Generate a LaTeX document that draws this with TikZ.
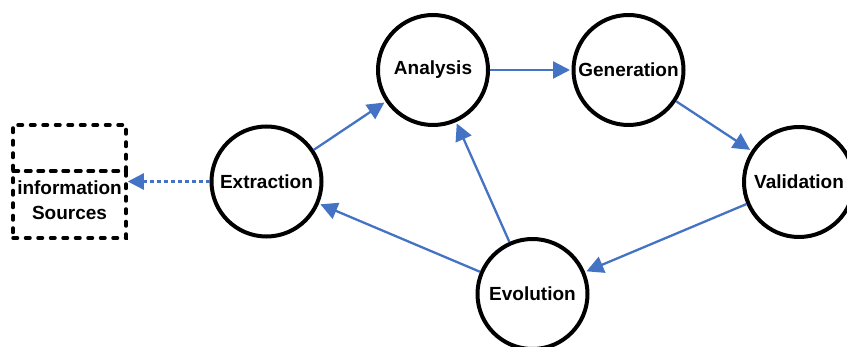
\documentclass[tikz,border=0pt]{standalone}
\usepackage{fontspec}
\setmainfont{Liberation Sans}
\usetikzlibrary{arrows.meta}
\definecolor{flowblue}{HTML}{4472C4}
\tikzset{
  stage/.style={circle, draw=black, line width=4pt, minimum size=110pt, inner sep=0pt,
    font=\fontsize{19}{22}\selectfont\bfseries, fill=white},
  flow/.style={draw=flowblue, line width=2.3pt, -{Triangle[length=17pt,width=17pt]}, shorten >=1.5pt},
  srcbox/.style={draw=black, line width=3.5pt, dash pattern=on 4.5pt off 8pt, line cap=round,
    minimum width=113pt, inner sep=0pt},
  srctext/.style={align=center, inner sep=0pt, font=\fontsize{19}{25}\selectfont\bfseries},
  link/.style={draw=flowblue, line width=2.3pt, dash pattern=on 4pt off 3pt, -{Triangle[length=16pt,width=16pt]}}
}
\begin{document}
\begin{tikzpicture}[x=1pt,y=-1pt]
\useasboundingbox (0,0) rectangle (847,347);
\clip (0,0) rectangle (847,347);
\node[stage] (ana) at (433,70) {Analysis};
\node[stage] (gen) at (628.5,70) {Generation};
\node[stage] (val) at (799,182) {Validation};
\node[stage] (evo) at (532.5,294) {Evolution};
\node[stage] (ext) at (266.5,181.5) {Extraction};
\node[srcbox, minimum height=46pt] (srctop) at (69.5,148) {};
\node[srcbox, minimum height=67pt] (src) at (69.5,204.5) {};
\node[srctext] (srclabel) at (69.5,200.5) {information\\Sources};
\draw[flow] (ana) -- (gen);
\draw[flow] (gen) -- (val);
\draw[flow] (val) -- (evo);
\draw[flow] (evo) -- (ext);
\draw[flow] (evo) -- (ana);
\draw[flow] (ext) -- (ana);
\draw[link] (ext.west) -- (ext.west -| src.east);
\end{tikzpicture}
\end{document}
